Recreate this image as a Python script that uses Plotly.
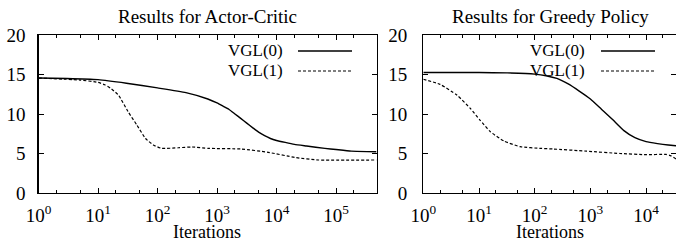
import plotly.graph_objects as go

# ---------------- data ----------------
ac_iter_v0 = [1, 3, 10, 30, 100, 300, 700, 1000, 1260, 1580, 2000, 2500, 3160, 4000, 5000,
              6300, 7900, 10000, 14000, 20000, 32000, 65000, 100000, 180000, 480000]
ac_vgl0 = [14.55, 14.5, 14.35, 13.9, 13.3, 12.7, 11.9, 11.4, 11.0, 10.6, 10.0, 9.45, 8.85,
           8.25, 7.7, 7.25, 6.9, 6.65, 6.4, 6.16, 5.95, 5.65, 5.5, 5.3, 5.23]

ac_iter_v1 = [1, 5, 10, 13, 16, 22, 32, 45, 63, 85, 117, 224, 380, 724, 2570, 7240,
              20400, 50000, 480000]
ac_vgl1 = [14.55, 14.3, 14.0, 13.7, 13.3, 12.4, 10.3, 8.6, 6.9, 6.08, 5.65, 5.73, 5.82, 5.65,
           5.57, 5.15, 4.5, 4.18, 4.18]

gp_iter_v0 = [1, 10, 32, 100, 160, 250, 400, 630, 1000, 1580, 2500, 4000, 6300, 10000,
              16000, 25000, 40000]
gp_vgl0 = [15.25, 15.25, 15.2, 15.05, 14.85, 14.5, 13.8, 12.9, 11.9, 10.6, 9.3, 7.9, 7.0,
           6.5, 6.25, 6.07, 5.95]

gp_iter_v1 = [1, 2, 4, 7, 10.5, 16, 28, 55, 126, 214, 850, 3390, 10000, 22900, 28000, 34700, 40000]
gp_vgl1 = [14.4, 13.75, 12.4, 10.7, 9.2, 7.76, 6.58, 5.86, 5.65, 5.57, 5.3, 5.0, 4.85, 4.88, 4.7, 4.3, 4.0]

tick_vals = [1, 10, 100, 1000, 10000, 100000]
tick_text = ["10<sup>0</sup>", "10<sup>1</sup>", "10<sup>2</sup>", "10<sup>3</sup>",
             "10<sup>4</sup>", "10<sup>5</sup>"]
series_names = ["VGL(0)", "VGL(1)"]
panel_titles = ["Results for Actor-Critic", "Results for Greedy Policy"]
x_title = "Iterations"

# ---------------- figure ----------------
W, H = 676, 240
FONT = "Liberation Serif"

fig = go.Figure()
solid = dict(color="black", width=1.4)
dashed = dict(color="black", width=1.2, dash="3px,2px")

for xs, ys, st, xa, ya in [(ac_iter_v0, ac_vgl0, solid, "x", "y"), (ac_iter_v1, ac_vgl1, dashed, "x", "y"),
                           (gp_iter_v0, gp_vgl0, solid, "x2", "y2"), (gp_iter_v1, gp_vgl1, dashed, "x2", "y2")]:
    fig.add_trace(go.Scatter(x=xs, y=ys, mode="lines", line=dict(**st, shape="spline", smoothing=0.5),
                             xaxis=xa, yaxis=ya, showlegend=False, cliponaxis=True, hoverinfo="skip"))

ytop, ybot = 35, 193
ydom = [1 - ybot / H, 1 - ytop / H]

def xaxis(dom, rng):
    return dict(domain=dom, type="log", range=rng, showline=True, linecolor="black", linewidth=1.3,
                mirror="ticks", ticks="inside", ticklen=5, tickwidth=1, tickcolor="black",
                tickvals=tick_vals, ticktext=tick_text, showgrid=False, zeroline=False,
                automargin=False, ticklabelstandoff=5,
                minor=dict(ticks="inside", ticklen=3, tickwidth=1, tickcolor="black", dtick="D2", showgrid=False),
                tickfont=dict(family=FONT, size=19, color="black"))

def yaxis(anchor, so):
    return dict(domain=ydom, range=[0, 20], dtick=5, showline=True, linecolor="black", linewidth=1.3,
                mirror="ticks", ticks="inside", ticklen=5, tickwidth=1, tickcolor="black",
                showgrid=False, zeroline=False, anchor=anchor, automargin=False, ticklabelstandoff=so,
                tickfont=dict(family=FONT, size=19, color="black"))

x1l, x1r = 38.5, 376.5
x2l = 423.3
fig.update_layout(
    width=W, height=H, margin=dict(l=0, r=0, t=0, b=0, autoexpand=False),
    paper_bgcolor="white", plot_bgcolor="white", hovermode=False,
    xaxis=dict(**xaxis([x1l / W, x1r / W], [0, 5.68]), anchor="y"),
    yaxis=yaxis("x", 8),
    xaxis2=dict(**xaxis([x2l / W, 1.0], [0, (W - x2l) / 55.7]), anchor="y2"),
    yaxis2=yaxis("x2", 11),
)

# panel titles and x-axis titles
for cx, t in zip([207 / W, 550 / W], panel_titles):
    fig.add_annotation(x=cx, y=1 - 17 / H, xref="paper", yref="paper", text=t, showarrow=False,
                       xanchor="center", yanchor="middle", font=dict(family=FONT, size=19, color="black"))
    fig.add_annotation(x=cx, y=1 - 231.5 / H, xref="paper", yref="paper", text=x_title, showarrow=False,
                       xanchor="center", yanchor="middle", font=dict(family=FONT, size=18, color="black"))

# legends (text left of sample line, gnuplot style)
for tx, lx0, lx1 in [(285, 298, 352), (587, 601, 655)]:
    for name, ly, st in zip(series_names, [50, 70], [solid, dashed]):
        fig.add_annotation(x=tx / W, y=1 - ly / H, xref="paper", yref="paper", text=name, showarrow=False,
                           xanchor="right", yanchor="middle", font=dict(family=FONT, size=17, color="black"))
        fig.add_shape(type="line", xref="paper", yref="paper", x0=lx0 / W, x1=lx1 / W,
                      y0=1 - (ly + 1) / H, y1=1 - (ly + 1) / H, line=st)

fig.write_html("out.html", config={"displayModeBar": False, "staticPlot": True},
               post_script="document.body.style.margin='0';document.body.style.overflow='hidden';")
